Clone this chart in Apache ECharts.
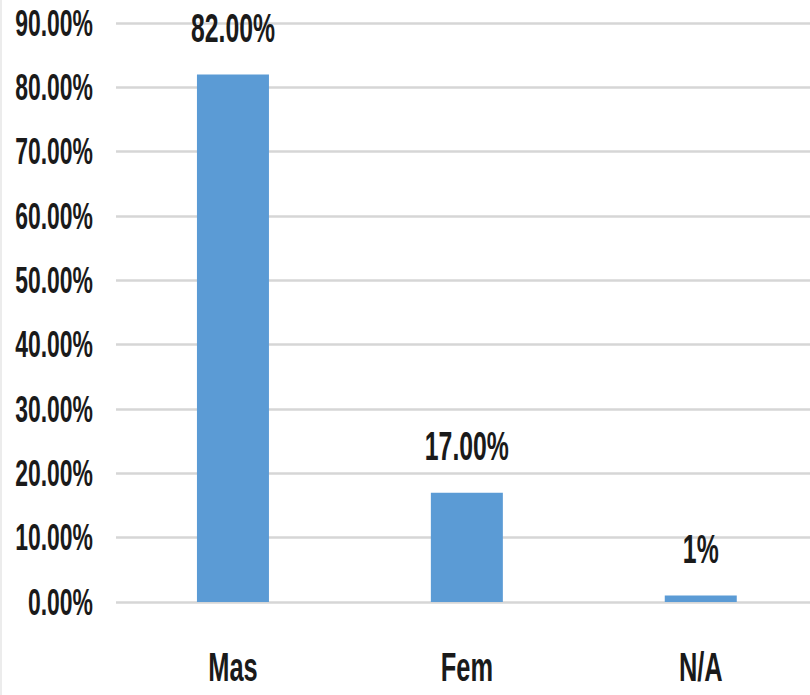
<!DOCTYPE html>
<html>
<head>
<meta charset="utf-8">
<style>
  html, body { margin: 0; padding: 0; background: #ffffff; }
  #frame { width: 810px; height: 695px; overflow: hidden; position: relative; box-sizing: border-box; border-left: 2px solid #ececec; }
  /* the chart is laid out wide and squeezed horizontally to get tall, narrow lettering */
  #chart { position: absolute; left: 0; top: 0; height: 695px; transform-origin: 0 0; }
</style>
<script src="https://cdn.jsdelivr.net/npm/echarts@6/dist/echarts.min.js"></script>
</head>
<body>
<div id="frame"><div id="chart"></div></div>
<script>
// Gender breakdown, share of respondents (%)
const categories = ['Mas', 'Fem', 'N/A'];
const shareValues = [82, 17, 1];
const shareLabels = ['82.00%', '17.00%', '1%'];
const yTicks = { min: 0, max: 90, interval: 10 };

const SQUEEZE = 0.62;                 // horizontal scale applied to the chart element
const px = v => v / SQUEEZE;          // screen px -> layout px along x

const el = document.getElementById('chart');
el.style.width = Math.round(px(810)) + 'px';
el.style.transform = 'scaleX(' + SQUEEZE + ')';

const FONT = '"Liberation Sans", Arial, sans-serif';
const INK = '#1a1a1a';

const chart = echarts.init(el, null, { renderer: 'svg' });
chart.setOption({
  animation: false,
  grid: {
    left: px(114), right: px(-6), top: 23, bottom: 93,
    containLabel: false, outerBoundsMode: 'none'
  },
  xAxis: {
    type: 'category',
    data: categories,
    axisLine: { show: false },
    axisTick: { show: false },
    axisLabel: {
      margin: 44,
      fontFamily: FONT,
      fontSize: 41,
      fontWeight: 'bold',
      color: INK
    }
  },
  yAxis: {
    type: 'value',
    min: yTicks.min,
    max: yTicks.max,
    interval: yTicks.interval,
    axisLine: { show: false },
    axisTick: { show: false },
    splitLine: { lineStyle: { color: '#d6d6d6', width: 2.5 } },
    axisLabel: {
      margin: px(23),
      fontFamily: FONT,
      fontSize: 37,
      fontWeight: 'bold',
      color: INK,
      formatter: v => v.toFixed(2) + '%'
    }
  },
  series: [{
    type: 'bar',
    data: shareValues,
    barWidth: px(72),
    itemStyle: { color: '#5b9bd5' },
    label: {
      show: true,
      position: 'top',
      distance: 26,
      fontFamily: FONT,
      fontSize: 40,
      fontWeight: 'bold',
      color: INK,
      formatter: p => shareLabels[p.dataIndex]
    }
  }]
});
</script>
</body>
</html>
